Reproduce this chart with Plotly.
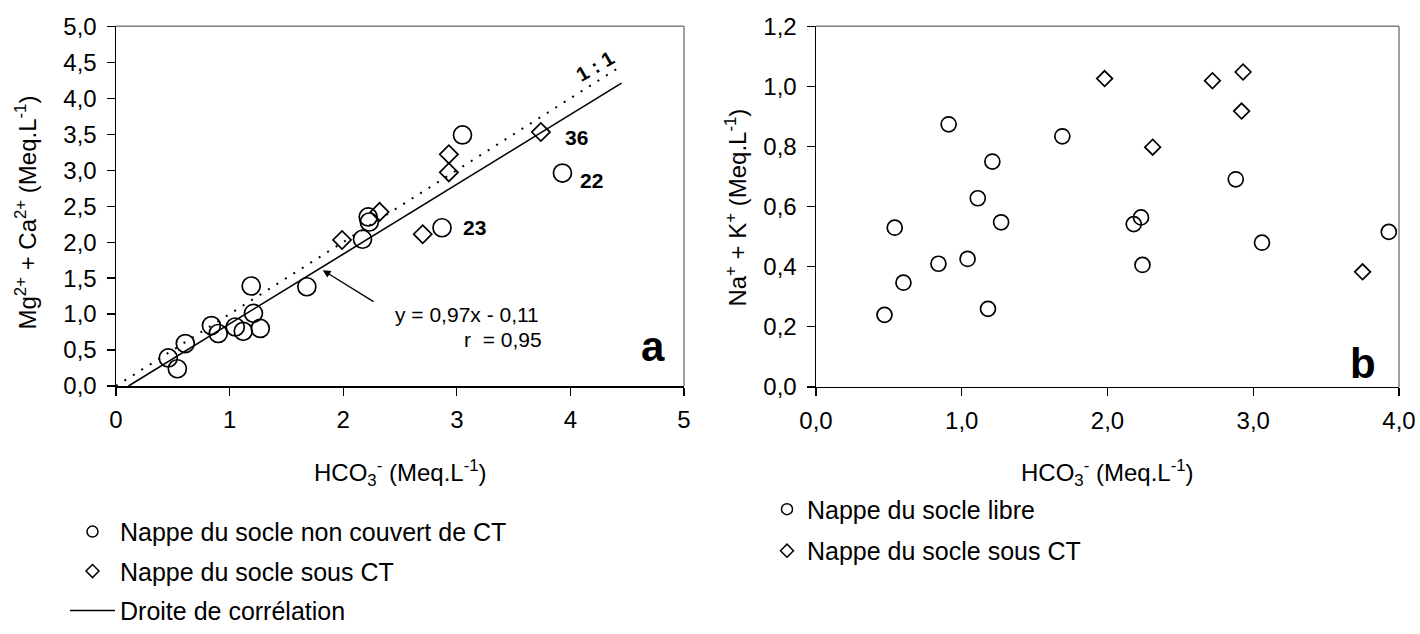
import plotly.graph_objects as go

# ---------- Data: panel a (Mg2+ + Ca2+ vs HCO3-) ----------
a_circ_x = [0.46, 0.54, 0.61, 0.84, 0.90, 1.05, 1.12, 1.19, 1.21, 1.27, 1.68, 2.17, 2.22, 2.23, 2.87, 3.05, 3.93]
a_circ_y = [0.39, 0.24, 0.59, 0.84, 0.73, 0.82, 0.76, 1.39, 1.01, 0.80, 1.38, 2.04, 2.35, 2.28, 2.20, 3.49, 2.96]
a_diam_x = [1.99, 2.32, 2.70, 2.93, 2.93, 3.74]
a_diam_y = [2.03, 2.42, 2.11, 2.97, 3.22, 3.53]
reg_x = [0.11, 4.45]
reg_y = [0.0, 4.21]
one_x = [0.0, 4.45]
one_y = [0.0, 4.45]
labels_txt = ["36", "22", "23"]
labels_x = [4.05, 4.19, 3.16]
labels_y = [3.46, 2.85, 2.21]

# ---------- Data: panel b (Na+ + K+ vs HCO3-) ----------
b_circ_x = [0.47, 0.54, 0.60, 0.84, 0.91, 1.04, 1.11, 1.18, 1.21, 1.27, 1.69, 2.18, 2.23, 2.24, 2.88, 3.06, 3.93]
b_circ_y = [0.24, 0.53, 0.347, 0.41, 0.874, 0.426, 0.628, 0.26, 0.75, 0.548, 0.834, 0.542, 0.564, 0.406, 0.691, 0.48, 0.516]
b_diam_x = [1.98, 2.31, 2.72, 2.92, 2.93, 3.75]
b_diam_y = [1.026, 0.798, 1.019, 0.918, 1.048, 0.383]

a_xticks = [0, 1, 2, 3, 4, 5]
a_yticks = [0.0, 0.5, 1.0, 1.5, 2.0, 2.5, 3.0, 3.5, 4.0, 4.5, 5.0]
b_xticks = [0.0, 1.0, 2.0, 3.0, 4.0]
b_yticks = [0.0, 0.2, 0.4, 0.6, 0.8, 1.0, 1.2]

FONT = "Liberation Sans, Arial, sans-serif"
W, H = 1420, 634

fig = go.Figure()

open_mk = dict(color="rgba(0,0,0,0)", line=dict(color="black", width=1.7))
leg_circ = dict(symbol="circle", size=11, color="rgba(0,0,0,0)", line=dict(color="black", width=1.5))
leg_diam = dict(symbol="diamond", size=10, color="rgba(0,0,0,0)", line=dict(color="black", width=1.5))

# panel a
fig.add_trace(go.Scatter(x=one_x, y=one_y, mode="lines", xaxis="x", yaxis="y",
                         line=dict(color="black", width=2, dash="2px,8px"), showlegend=False, hoverinfo="skip"))
fig.add_trace(go.Scatter(x=reg_x, y=reg_y, mode="lines", xaxis="x", yaxis="y",
                         line=dict(color="black", width=1.6), showlegend=False))
fig.add_trace(go.Scatter(x=a_circ_x, y=a_circ_y, mode="markers", xaxis="x", yaxis="y",
                         marker=dict(symbol="circle", size=18, **open_mk), showlegend=False))
fig.add_trace(go.Scatter(x=a_diam_x, y=a_diam_y, mode="markers", xaxis="x", yaxis="y",
                         marker=dict(symbol="diamond", size=14, **open_mk), showlegend=False))
# legend entries for panel a
fig.add_trace(go.Scatter(x=[None], y=[None], mode="markers", xaxis="x", yaxis="y", legend="legend",
                         legendgroup="a1", name="Nappe du socle non couvert de CT", marker=leg_circ))
fig.add_trace(go.Scatter(x=[None], y=[None], mode="markers", xaxis="x", yaxis="y", legend="legend",
                         legendgroup="a2", name="Nappe du socle sous CT", marker=leg_diam))
fig.add_trace(go.Scatter(x=[None], y=[None], mode="lines", xaxis="x", yaxis="y", legend="legend",
                         legendgroup="a3", name="Droite de corrélation",
                         line=dict(color="black", width=1.5)))

# panel b
fig.add_trace(go.Scatter(x=b_circ_x, y=b_circ_y, mode="markers", xaxis="x2", yaxis="y2",
                         marker=dict(symbol="circle", size=15, **open_mk), showlegend=False))
fig.add_trace(go.Scatter(x=b_diam_x, y=b_diam_y, mode="markers", xaxis="x2", yaxis="y2",
                         marker=dict(symbol="diamond", size=12, **open_mk), showlegend=False))
fig.add_trace(go.Scatter(x=[None], y=[None], mode="markers", xaxis="x2", yaxis="y2", legend="legend2",
                         legendgroup="b1", name="Nappe du socle libre", marker=leg_circ))
fig.add_trace(go.Scatter(x=[None], y=[None], mode="markers", xaxis="x2", yaxis="y2", legend="legend2",
                         legendgroup="b2", name="Nappe du socle sous CT", marker=leg_diam))

ax_common = dict(showline=True, linecolor="black", linewidth=1.5, ticks="outside", ticklen=8,
                 tickcolor="black", tickwidth=1.2, showgrid=False, zeroline=False, automargin=False,
                 tickfont=dict(family=FONT, size=24, color="black"), fixedrange=True)

fig.update_layout(
    template="none",
    width=W, height=H, margin=dict(l=0, r=0, t=0, b=0, pad=0),
    paper_bgcolor="white", plot_bgcolor="white",
    separators=", ",
    font=dict(family=FONT, size=24, color="black"),
    xaxis=dict(domain=[116 / W, 684 / W], range=[0, 5], tickvals=a_xticks, tickformat="d",
               anchor="y", ticklabelstandoff=4, **ax_common),
    yaxis=dict(domain=[1 - 396 / H, 1 - 27 / H], range=[0, 5], tickvals=a_yticks, tickformat=".1f",
               anchor="x", ticklabelstandoff=5, **ax_common),
    xaxis2=dict(domain=[816 / W, 1399 / W], range=[0, 4], tickvals=b_xticks, tickformat=".1f",
                anchor="y2", ticklabelstandoff=4, **ax_common),
    yaxis2=dict(domain=[1 - 397 / H, 1 - 27 / H], range=[0, 1.2], tickvals=b_yticks, tickformat=".1f",
                anchor="x2", ticklabelstandoff=5, **ax_common),
    legend=dict(x=65 / W, y=1 - 522 / H, xanchor="left", yanchor="top", bgcolor="rgba(0,0,0,0)",
                font=dict(family=FONT, size=25), itemwidth=45, tracegroupgap=4, traceorder="grouped"),
    legend2=dict(x=767 / W, y=1 - 499 / H, xanchor="left", yanchor="top", bgcolor="rgba(0,0,0,0)",
                 font=dict(family=FONT, size=25), itemwidth=30, tracegroupgap=6, traceorder="grouped"),
    showlegend=True,
)

# grey top/right frame
for xr, yr in (("x domain", "y domain"), ("x2 domain", "y2 domain")):
    fig.add_shape(type="line", xref=xr, yref=yr, x0=0, x1=1, y0=1, y1=1, line=dict(color="#808080", width=1.5))
    fig.add_shape(type="line", xref=xr, yref=yr, x0=1, x1=1, y0=0, y1=1, line=dict(color="#808080", width=1.5))

# axis titles
tfont = dict(family=FONT, size=24, color="black")
hco3 = "HCO<sub>3</sub><sup>-</sup> (Meq.L<sup>-1</sup>)"
fig.add_annotation(x=400 / W, y=1 - 485 / H, xref="paper", yref="paper", text=hco3, showarrow=False,
                   xanchor="center", yanchor="middle", font=tfont)
fig.add_annotation(x=1107 / W, y=1 - 485 / H, xref="paper", yref="paper", text=hco3, showarrow=False,
                   xanchor="center", yanchor="middle", font=tfont)
fig.add_annotation(x=26 / W, y=1 - 218 / H, xref="paper", yref="paper",
                   text="Mg<sup>2+</sup> + Ca<sup>2+</sup> (Meq.L<sup>-1</sup>)", showarrow=False,
                   textangle=-90, xanchor="center", yanchor="middle", font=tfont)
fig.add_annotation(x=736 / W, y=1 - 213 / H, xref="paper", yref="paper",
                   text="Na<sup>+</sup> + K<sup>+</sup> (Meq.L<sup>-1</sup>)", showarrow=False,
                   textangle=-90, xanchor="center", yanchor="middle", font=tfont)

# point labels
for t, lx, ly in zip(labels_txt, labels_x, labels_y):
    fig.add_annotation(x=lx, y=ly, xref="x", yref="y", text=f"<b>{t}</b>", showarrow=False,
                       font=dict(family=FONT, size=21, color="black"))

fig.add_annotation(x=4.22, y=4.45, xref="x", yref="y", text="<b>1 : 1</b>", showarrow=False,
                   textangle=-30, font=dict(family=FONT, size=20, color="black"))

fig.add_annotation(x=2.44, y=1.0, xref="x", yref="y", text="y = 0,97x - 0,11", showarrow=False,
                   xanchor="left", font=dict(family=FONT, size=21, color="black"))
fig.add_annotation(x=3.05, y=0.65, xref="x", yref="y", text="r  = 0,95", showarrow=False,
                   xanchor="left", font=dict(family=FONT, size=21, color="black"))
fig.add_annotation(x=1.82, y=1.61, ax=2.28, ay=1.16, xref="x", yref="y", axref="x", ayref="y",
                   text="", showarrow=True, arrowhead=2, arrowsize=1.2, arrowwidth=1.3, arrowcolor="black")

fig.add_annotation(x=4.73, y=0.2, xref="x", yref="y", text="<b>a</b>", showarrow=False,
                   yanchor="bottom", font=dict(family=FONT, size=42, color="black"))
fig.add_annotation(x=3.75, y=0.0, xref="x2", yref="y2", text="<b>b</b>", showarrow=False,
                   yanchor="bottom", yshift=-2, font=dict(family=FONT, size=42, color="black"))

fig.write_html("out.html", config={"displayModeBar": False, "staticPlot": True},
               post_script="document.body.style.margin='0';")
